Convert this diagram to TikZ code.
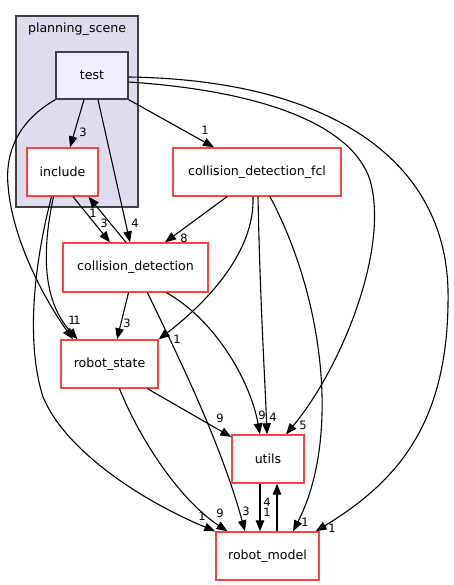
\documentclass[tikz,border=0pt]{standalone}
\usepackage{fontspec}
\setmainfont{DejaVu Sans}
\usetikzlibrary{arrows.meta}
\definecolor{nodered}{RGB}{255,64,64}
\definecolor{clusterfill}{RGB}{221,221,238}
\definecolor{testfill}{RGB}{238,238,255}
\definecolor{darkborder}{RGB}{64,64,64}
\tikzset{
  dirbox/.style={draw=nodered, line width=1.4pt, fill=white, inner sep=0pt,
    font=\fontsize{12.6}{14}\selectfont},
  testbox/.style={draw=darkborder, line width=1.4pt, fill=testfill, inner sep=0pt,
    font=\fontsize{12.6}{14}\selectfont},
  dep/.style={draw=black, line width=1.1pt, -{Triangle[length=11pt,width=8.5pt]}},
  elabel/.style={inner sep=0pt, font=\fontsize{11.5}{13}\selectfont}
}
\begin{document}
\begin{tikzpicture}[x=1pt,y=-1pt]
\useasboundingbox (0,0) rectangle (453,585);
% cluster
\node[draw=darkborder, line width=1.3pt, fill=clusterfill, minimum width=122pt, minimum height=191pt, inner sep=0pt] (cluster) at (77,111.5) {};
\node[inner sep=0pt, font=\fontsize{12.6}{14}\selectfont] (clusterlabel) at (77,29) {planning\_scene};
% nodes
\node[testbox, minimum width=72pt, minimum height=47pt] (test) at (92,75.5) {test};
\node[dirbox, minimum width=71pt, minimum height=48pt] (include) at (62.5,172) {include};
\node[dirbox, minimum width=145pt, minimum height=49pt] (cd) at (135.5,267.5) {collision\_detection};
\node[dirbox, minimum width=168pt, minimum height=48pt] (fcl) at (257,172) {collision\_detection\_fcl};
\node[dirbox, minimum width=97pt, minimum height=48pt] (rs) at (109.5,364) {robot\_state};
\node[dirbox, minimum width=72pt, minimum height=48pt] (utils) at (268,459) {utils};
\node[dirbox, minimum width=103pt, minimum height=48pt] (rm) at (267.5,556) {robot\_model};
% edges
\draw[dep] ([xshift=-8pt]test.south) -- ([xshift=7.5pt]include.north);
\draw[dep] ([xshift=6pt]test.south) -- ([xshift=-5.5pt]cd.north);
\draw[dep] (test.south west) .. controls (20,120) and (5,150) .. (8,185) .. controls (12,240) and (45,300) .. ([xshift=-36.5pt]rs.north);
\draw[dep] ([xshift=-9pt]include.south) .. controls (42,250) and (42,300) .. ([xshift=-32pt]rs.north);
\draw[dep] ([xshift=-11pt]include.south) .. controls (35,260) and (25,340) .. (43,397) .. controls (65,450) and (140,500) .. (rm.north west);
\draw[dep] ([xshift=10.5pt]include.south) -- ([xshift=-25.5pt]cd.north);
\draw[dep] ([xshift=-9.5pt]cd.north) -- ([xshift=26pt]include.south);
\draw[dep] (test.south east) -- ([xshift=-43pt]fcl.north);
\draw[dep] ([yshift=-6.5pt]test.east) .. controls (250,90) and (350,120) .. (370,180) .. controls (390,250) and (340,370) .. ([xshift=18pt]utils.north);
\draw[dep] ([yshift=-1.5pt]test.east) .. controls (330,80) and (445,160) .. (448,290) .. controls (450,420) and (400,480) .. ([xshift=-4pt]rm.north east);
\draw[dep] ([xshift=-30pt]fcl.south) -- ([xshift=29.5pt]cd.north);
\draw[dep] ([xshift=-4pt]fcl.south) .. controls (255,250) and (210,300) .. (rs.north east);
\draw[dep] ([xshift=1pt]fcl.south) .. controls (260,300) and (265,380) .. ([xshift=-1pt]utils.north);
\draw[dep] ([xshift=13pt]fcl.south) .. controls (325,300) and (340,440) .. ([xshift=25.5pt]rm.north);
\draw[dep] ([xshift=-7pt]cd.south) -- ([xshift=7.5pt]rs.north);
\draw[dep] ([xshift=12pt]cd.south) .. controls (175,350) and (220,440) .. ([xshift=-22.5pt]rm.north);
\draw[dep] ([xshift=31pt]cd.south) .. controls (215,320) and (250,380) .. ([xshift=-8pt]utils.north);
\draw[dep] ([xshift=38pt]rs.south) -- ([yshift=22pt]utils.west);
\draw[dep] ([xshift=10pt]rs.south) .. controls (140,440) and (180,500) .. ([xshift=-40pt]rm.north);
\draw[dep] ([xshift=-8pt]utils.south) -- ([xshift=-7.5pt]rm.north);
\draw[dep] ([xshift=9.5pt]rm.north) -- ([xshift=9pt]utils.south);
% edge labels
\node[elabel] (l1) at (83,132) {3};
\node[elabel] (l2) at (135,223) {4};
\node[elabel] (l3) at (72,320) {1};
\node[elabel] (l4) at (77,320) {1};
\node[elabel] (l5) at (202,516) {1};
\node[elabel] (l6) at (104,223) {3};
\node[elabel] (l7) at (93,213) {1};
\node[elabel] (l8) at (205,130) {1};
\node[elabel] (l9) at (303,425) {5};
\node[elabel] (l10) at (332,528) {1};
\node[elabel] (l11) at (184,238) {8};
\node[elabel] (l12) at (177,339) {1};
\node[elabel] (l13) at (273,417) {4};
\node[elabel] (l14) at (305,522) {1};
\node[elabel] (l15) at (127,323) {3};
\node[elabel] (l16) at (246,511) {3};
\node[elabel] (l17) at (262,415) {9};
\node[elabel] (l18) at (220,418) {9};
\node[elabel] (l19) at (220,513) {9};
\node[elabel] (l20) at (267,512) {1};
\node[elabel] (l21) at (267,502) {4};
\end{tikzpicture}
\end{document}
